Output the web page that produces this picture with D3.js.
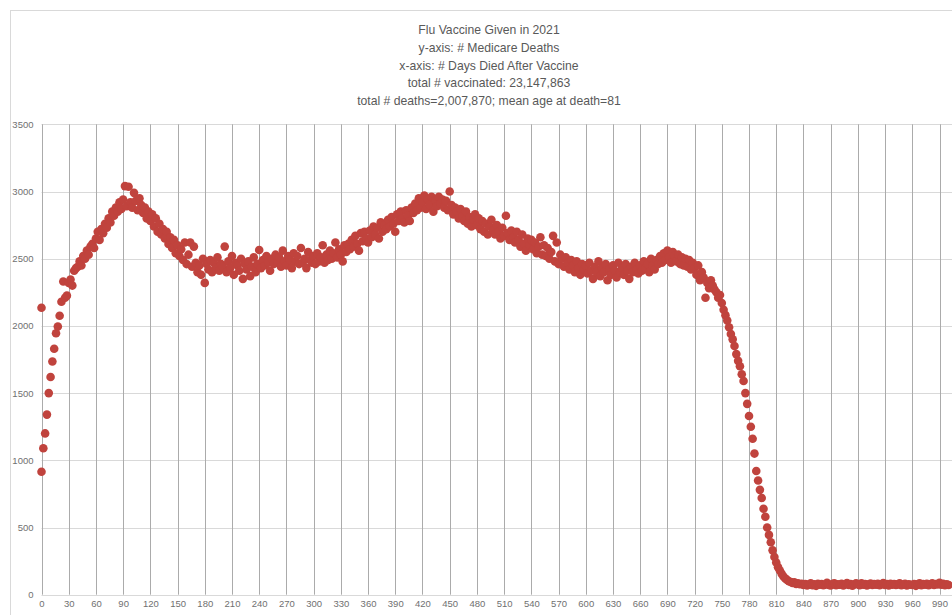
<!DOCTYPE html>
<html>
<head>
<meta charset="utf-8">
<script src="https://cdn.jsdelivr.net/npm/d3@7"></script>
<style>
  body { margin: 0; background: #fff; }
  svg { display: block; }
</style>
</head>
<body>
<svg id="chart" width="952" height="615"></svg>
<script>
var titleLines = ['Flu Vaccine Given in 2021', 'y-axis: # Medicare Deaths', 'x-axis: # Days Died After Vaccine',
  'total # vaccinated: 23,147,863', 'total # deaths=2,007,870; mean age at death=81'];

var xTicks = [0, 30, 60, 90, 120, 150, 180, 210, 240, 270, 300, 330, 360, 390, 420, 450, 480, 510, 540, 570,
  600, 630, 660, 690, 720, 750, 780, 810, 840, 870, 900, 930, 960, 990];
var yTicks = [0, 500, 1000, 1500, 2000, 2500, 3000, 3500];

// one reading every 2 days, starting at day 0
var dayStep = 2;
var deaths = [
  915, 1090, 1200, 1340, 1500, 1620, 1735, 1830, 1945, 1995,
  2075, 2180, 2330, 2210, 2225, 2320, 2345, 2300, 2410, 2430,
  2440, 2480, 2450, 2520, 2500, 2560, 2530, 2590, 2610, 2580,
  2650, 2700, 2640, 2720, 2690, 2760, 2730, 2800, 2770, 2850,
  2820, 2880, 2850, 2920, 2870, 2940, 3040, 2890, 3035, 2920,
  2880, 2990, 2930, 2860, 2950, 2900, 2840, 2880, 2800, 2850,
  2780, 2830, 2740, 2800, 2700, 2760, 2680, 2720, 2650, 2700,
  2610, 2660, 2580, 2640, 2540, 2600, 2520, 2570, 2490, 2620,
  2460, 2530, 2620, 2440, 2590, 2470, 2400, 2450, 2380, 2500,
  2320, 2460, 2420, 2490, 2400, 2470, 2430, 2510, 2410, 2460,
  2440, 2590, 2400, 2480, 2430, 2520, 2380, 2470, 2450, 2410,
  2500, 2350, 2460, 2420, 2480, 2370, 2440, 2510, 2400, 2460,
  2565, 2430, 2490, 2450, 2520, 2470, 2410, 2500, 2460, 2530,
  2470, 2510, 2440, 2560, 2480, 2450, 2520, 2490, 2430, 2540,
  2480, 2520, 2460, 2580, 2470, 2500, 2430, 2550, 2490, 2470,
  2520, 2460, 2540, 2480, 2510, 2600, 2470, 2530, 2490, 2560,
  2500, 2540, 2620, 2510, 2570, 2530, 2480, 2600, 2550, 2610,
  2570, 2640, 2590, 2670, 2610, 2560, 2690, 2630, 2700, 2650,
  2620, 2710, 2660, 2740, 2680, 2730, 2650, 2770, 2700, 2750,
  2720, 2790, 2740, 2810, 2760, 2700, 2830, 2780, 2850, 2800,
  2770, 2860, 2820, 2780, 2880, 2840, 2910, 2860, 2950, 2880,
  2920, 2970, 2870, 2940, 2900, 2960, 2850, 2930, 2890, 2960,
  2910, 2940, 2880, 2930, 2860, 3000, 2900, 2830, 2880, 2850,
  2800, 2870, 2820, 2780, 2850, 2760, 2810, 2740, 2790, 2830,
  2750, 2800, 2720, 2780, 2700, 2760, 2680, 2740, 2790, 2710,
  2680, 2750, 2700, 2650, 2730, 2670, 2820, 2690, 2640, 2710,
  2660, 2620, 2700, 2640, 2590, 2680, 2610, 2560, 2650, 2600,
  2640, 2570, 2620, 2540, 2590, 2660, 2530, 2600, 2520, 2580,
  2500, 2550, 2670, 2480, 2620, 2460, 2530, 2500, 2440, 2510,
  2470, 2420, 2490, 2450, 2400, 2480, 2430, 2380, 2460, 2420,
  2450, 2390, 2470, 2410, 2350, 2440, 2400, 2480, 2370, 2430,
  2400, 2460, 2340, 2420, 2380, 2450, 2410, 2360, 2470, 2400,
  2430, 2380, 2460, 2410, 2350, 2440, 2400, 2470, 2420, 2390,
  2450, 2410, 2480, 2430, 2460, 2400, 2500, 2450, 2420, 2490,
  2460, 2520, 2470, 2540, 2490, 2560, 2510, 2470, 2550, 2520,
  2480, 2530, 2460, 2510, 2450, 2500, 2440, 2490, 2420, 2470,
  2430, 2380, 2450, 2340, 2400, 2360, 2210, 2320, 2280, 2340,
  2300, 2270, 2250, 2210, 2230, 2170, 2120, 2080, 2040, 1990,
  1940, 1900, 1850, 1790, 1740, 1700, 1640, 1590, 1500, 1420,
  1330, 1250, 1160, 1050, 920, 850, 780, 720, 640, 580,
  500, 445, 390, 330, 280, 240, 205, 180, 155, 135,
  120, 110, 100, 95, 88, 92, 80, 85, 78, 82,
  72, 80, 68, 75, 85, 70, 78, 66, 82, 74,
  80, 70, 76, 88, 72, 68, 79, 84, 71, 77,
  74, 82, 69, 78, 86, 73, 80, 67, 76, 84,
  78, 71, 85, 74, 80, 68, 77, 83, 72, 79,
  75, 82, 70, 78, 86, 72, 79, 68, 81, 74,
  80, 73, 77, 85, 70, 76, 82, 69, 78, 74,
  72, 80, 66, 77, 84, 71, 79, 75, 82, 70,
  78, 85, 72, 80, 76, 88, 74, 81, 70, 77,
  72
];
// stray reading on day 0
var extraDays = [0];
var extraDeaths = [2135];

var main = () => {
  var svg = d3.select('#chart');
  var font = '"Liberation Sans Narrow", "Arial Narrow", "Liberation Sans", sans-serif';

  var x = d3.scaleLinear().domain([0, 990]).range([41.5, 939.5]);
  var y = d3.scaleLinear().domain([0, 3500]).range([594.7, 124.3]);

  svg.append('rect').attr('width', 952).attr('height', 615).style('fill', '#fff');
  svg.append('rect').attr('x', 10.5).attr('y', 10.5).attr('width', 1000).attr('height', 700)
    .style('fill', 'none').style('stroke', '#d9d9d9');

  //horizontal grid
  svg.append('g').selectAll('line').data(yTicks).enter().append('line')
    .attr('x1', x(0)).attr('x2', 960)
    .attr('y1', (d) => Math.round(y(d)) + 0.5).attr('y2', (d) => Math.round(y(d)) + 0.5)
    .style('stroke', '#d9d9d9');

  //vertical grid
  svg.append('g').selectAll('line').data(xTicks.concat([1020])).enter().append('line')
    .attr('x1', (d) => Math.round(x(d)) + 0.5).attr('x2', (d) => Math.round(x(d)) + 0.5)
    .attr('y1', y(3500)).attr('y2', y(0))
    .style('stroke', '#ababab');

  //axes labels
  var yAxis = svg.append('g').attr('transform', 'translate(' + (x(0) - 8) + ',0)')
    .call(d3.axisLeft(y).tickValues(yTicks).tickFormat(d3.format('d')).tickSize(0).tickPadding(0));
  var xAxis = svg.append('g').attr('transform', 'translate(0,' + (y(0) + 6) + ')')
    .call(d3.axisBottom(x).tickValues(xTicks).tickFormat(d3.format('d')).tickSize(0).tickPadding(0));
  [xAxis, yAxis].forEach((a) => {
    a.select('.domain').remove();
    a.selectAll('text').style('font-family', font).style('font-size', '9.5px').style('fill', '#707070');
  });

  //points
  var pts = deaths.map((v, i) => ({ day: i * dayStep, deaths: v }))
    .concat(extraDays.map((d, i) => ({ day: d, deaths: extraDeaths[i] })));
  svg.append('g').selectAll('circle').data(pts).enter().append('circle')
    .attr('cx', (d) => x(d.day)).attr('cy', (d) => y(d.deaths))
    .attr('r', 4.3).style('fill', '#c0433d');

  //title
  svg.append('g').selectAll('text').data(titleLines).enter().append('text')
    .attr('x', 489).attr('y', (d, i) => 34 + i * 17.8)
    .attr('text-anchor', 'middle')
    .style('font-family', font).style('font-size', '12.2px').style('fill', '#595959')
    .text((d) => d);
};

main();
</script>
</body>
</html>
